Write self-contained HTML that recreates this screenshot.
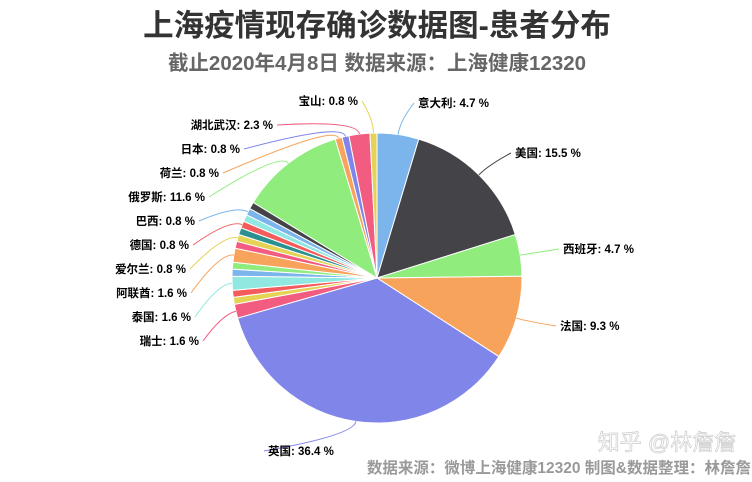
<!DOCTYPE html>
<html><head><meta charset="utf-8"><style>
body{margin:0;width:752px;height:477px;background:#fff;overflow:hidden;font-family:"Liberation Sans","Noto Sans CJK SC",sans-serif}
</style></head><body>
<svg id="s" width="752" height="477" viewBox="0 0 752 477" xmlns="http://www.w3.org/2000/svg" font-family="'Liberation Sans','Noto Sans CJK SC',sans-serif">
<text x="377" y="36" text-anchor="middle" font-size="30.5" font-weight="bold" fill="#333">上海疫情现存确诊数据图-患者分布</text>
<text x="377" y="70" text-anchor="middle" font-size="20.5" font-weight="bold" fill="#666">截止2020年4月8日 数据来源：上海健康12320</text>
<g id="pie"></g>
<g id="lab" font-size="11.5" font-weight="bold" fill="#000"></g>
<text x="667" y="450" text-anchor="middle" font-size="22" fill="#fff" stroke="#ccc" stroke-width="0.7">知乎 @林詹詹</text>
<text x="751" y="473" text-anchor="end" font-size="15.5" font-weight="bold" fill="#999">数据来源：微博上海健康12320 制图&amp;数据整理：林詹詹</text>
</svg>
<script>
var B='#7cb5ec',D='#434348',G='#90ed7d',O='#f7a35c',P='#8085e9',K='#f15c80',Y='#e4d354',T='#2b908f',R='#f45b5b',C='#91e8e1';
var d=[[6,B,'意大利: 4.7 %',418,107,'start'],[20,D,'美国: 15.5 %',515,157,'start'],[6,G,'西班牙: 4.7 %',563,253,'start'],[12,O,'法国: 9.3 %',560,330,'start'],[47,P,'英国: 36.4 %',268,455,'start'],
[2,K,'瑞士: 1.6 %',199,345,'end'],[1,Y],[1,R],[2,C,'泰国: 1.6 %',191,321,'end'],[1,B],[1,G],[2,O,'阿联酋: 1.6 %',187,297,'end'],[1,K],[1,Y,'爱尔兰: 0.8 %',186,273,'end'],[1,T],[1,R,'德国: 0.8 %',189,249,'end'],[1,C],[1,B,'巴西: 0.8 %',195,225,'end'],[1,D],
[15,G,'俄罗斯: 11.6 %',205,201,'end'],[1,O,'荷兰: 0.8 %',219,177,'end'],[1,P,'日本: 0.8 %',240,153,'end'],[3,K,'湖北武汉: 2.3 %',273,129,'end'],[1,Y,'宝山: 0.8 %',358,105,'end']];
var cx=377,cy=278,r=145,tot=129,a=0,pie='',lab='';
function pt(ang,rr){return [cx+rr*Math.sin(ang),cy-rr*Math.cos(ang)];}
d.forEach(function(e){var a0=a/tot*2*Math.PI;a+=e[0];var a1=a/tot*2*Math.PI;
var p0=pt(a0,r),p1=pt(a1,r),lg=(a1-a0)>Math.PI?1:0;
pie+='<path d="M'+cx+','+cy+'L'+p0+'A'+r+','+r+' 0 '+lg+' 1 '+p1+'Z" fill="'+e[1]+'" stroke="#fff" stroke-width="1"/>';
if(e[2]){var m=(a0+a1)/2,q=pt(m,r),q2=pt(m,r+14);var lx=e[5]=='end'?e[3]+4:e[3]-4;
lab+='<path d="M'+q+'Q'+q2+' '+lx+','+(e[4]-4)+'" fill="none" stroke="'+e[1]+'" stroke-width="1"/>';
lab+='<text x="'+e[3]+'" y="'+e[4]+'" text-anchor="'+e[5]+'">'+e[2]+'</text>';}
});
document.getElementById('pie').innerHTML=pie;document.getElementById('lab').innerHTML=lab;
</script>
</body></html>
